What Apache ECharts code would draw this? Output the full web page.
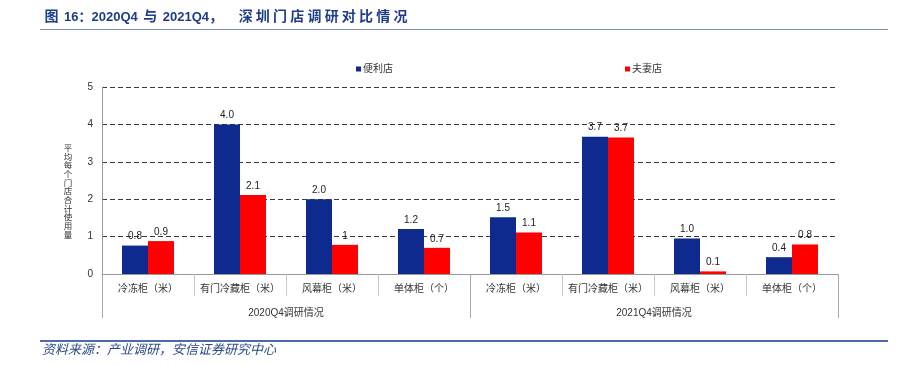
<!DOCTYPE html>
<html>
<head>
<meta charset="utf-8">
<script src="https://cdn.jsdelivr.net/npm/echarts@6/dist/echarts.min.js"></script>
<style>
  html, body { margin: 0; padding: 0; background: #fff; }
  #chart { width: 902px; height: 366px; }
</style>
</head>
<body>
<div id="chart"></div>
<script>
// 类别与分组
const categories = ['冷冻柜（米）', '有门冷藏柜（米）', '风幕柜（米）', '单体柜（个）',
  '冷冻柜（米）', '有门冷藏柜（米）', '风幕柜（米）', '单体柜（个）']
const groups = ['2020Q4调研情况', '2021Q4调研情况']

// 柱高
const storeValues = [0.76, 4.0, 2.0, 1.2, 1.52, 3.67, 0.95, 0.45]
const familyValues = [0.88, 2.11, 0.78, 0.70, 1.11, 3.65, 0.07, 0.79]

// 原图标注文字（与柱高略有出入，按原样保留）
const storeLabels = ['0.8', '4.0', '2.0', '1.2', '1.5', '3.7', '1.0', '0.4']
const familyLabels = ['0.9', '2.1', '1', '0.7', '1.1', '3.7', '0.1', '0.8']

const yTicks = { min: 0, max: 5, interval: 1 }
const yName = '平均每个门店合计使用量'

const FONT = '"Liberation Sans", "Noto Sans CJK SC", sans-serif'

// 标题：中文逐字加一点间距，拉开字距
const spaced = (s) => s.split('').map((c) => `{h|${c}}`).join('')
const titleText = `${spaced('图')} {n|16：2020Q4} ${spaced('与')} {n|2021Q4}{c|，}${spaced('深圳门店调研对比情况')}`

const chart = echarts.init(document.getElementById('chart'))

const barLabel = (labels) => ({
  show: true,
  position: 'top',
  distance: 4,
  color: '#222',
  fontSize: 10,
  fontFamily: FONT,
  formatter: (p) => labels[p.dataIndex],
})

const legendText = { fontSize: 10, color: '#333', fontFamily: FONT, padding: [0, 0, 0, -3] }
const titleStyle = { fontWeight: 'bold', color: '#1f3c88', fontFamily: FONT }

chart.setOption({
  animation: false,
  backgroundColor: '#fff',
  title: {
    text: titleText,
    left: 38,
    top: 5,
    textStyle: {
      ...titleStyle,
      fontSize: 14,
      rich: {
        h: { ...titleStyle, fontSize: 14, padding: [0, 1.6] },
        n: { ...titleStyle, fontSize: 13 },
        c: { ...titleStyle, fontSize: 14, padding: [0, 14, 0, 0] },
      },
    },
  },
  legend: [
    { data: ['便利店'], left: 351, top: 59, itemWidth: 5, itemHeight: 5, icon: 'rect', textStyle: legendText },
    { data: ['夫妻店'], left: 620, top: 59, itemWidth: 5, itemHeight: 5, icon: 'rect', textStyle: legendText },
  ],
  grid: { left: 102, right: 64, top: 87, bottom: 92 },
  xAxis: [
    {
      type: 'category',
      data: categories,
      axisLine: { lineStyle: { color: '#999' } },
      axisTick: { show: true, length: 22, lineStyle: { color: '#c8c8c8' } },
      axisLabel: { color: '#333', fontSize: 10, margin: 10, fontFamily: FONT, interval: 0 },
    },
    {
      type: 'category',
      data: groups,
      position: 'bottom',
      axisLine: { show: false },
      axisTick: { show: true, length: 44, lineStyle: { color: '#aaa' } },
      axisLabel: { color: '#333', fontSize: 10, margin: 34, fontFamily: FONT },
    },
  ],
  yAxis: {
    type: 'value',
    min: yTicks.min,
    max: yTicks.max,
    interval: yTicks.interval,
    axisLine: { show: true, lineStyle: { color: '#999' } },
    axisTick: { show: false },
    axisLabel: { color: '#333', fontSize: 10, margin: 9, fontFamily: FONT },
    splitLine: { lineStyle: { color: '#3a3a3a', type: [5, 3], width: 1 } },
  },
  series: [
    {
      name: '便利店',
      type: 'bar',
      data: storeValues,
      barWidth: 26,
      barGap: '0%',
      itemStyle: { color: '#0f2a8f' },
      label: barLabel(storeLabels),
    },
    {
      name: '夫妻店',
      type: 'bar',
      data: familyValues,
      barWidth: 26,
      barGap: '0%',
      itemStyle: { color: '#ff0000' },
      label: barLabel(familyLabels),
    },
  ],
  graphic: [
    {
      type: 'line', silent: true,
      shape: { x1: 40, y1: 29.5, x2: 888, y2: 29.5 },
      style: { stroke: '#7f8fb0', lineWidth: 1 },
    },
    {
      type: 'line', silent: true,
      shape: { x1: 40, y1: 341, x2: 888, y2: 341 },
      style: { stroke: '#4f6aa8', lineWidth: 2 },
    },
    {
      // 纵轴名称：竖排
      type: 'text', silent: true, x: 68, y: 192,
      style: {
        text: yName.split('').join('\n'),
        fill: '#333', fontSize: 8.5, lineHeight: 8.7, fontFamily: FONT,
        align: 'center', verticalAlign: 'middle',
      },
    },
    {
      type: 'text', silent: true, left: 42, top: 344,
      style: {
        text: '资料来源：产业调研，安信证券研究中心',
        fill: '#2b4a8c', fontSize: 13, fontStyle: 'italic', fontFamily: FONT,
      },
    },
  ],
})
</script>
</body>
</html>
